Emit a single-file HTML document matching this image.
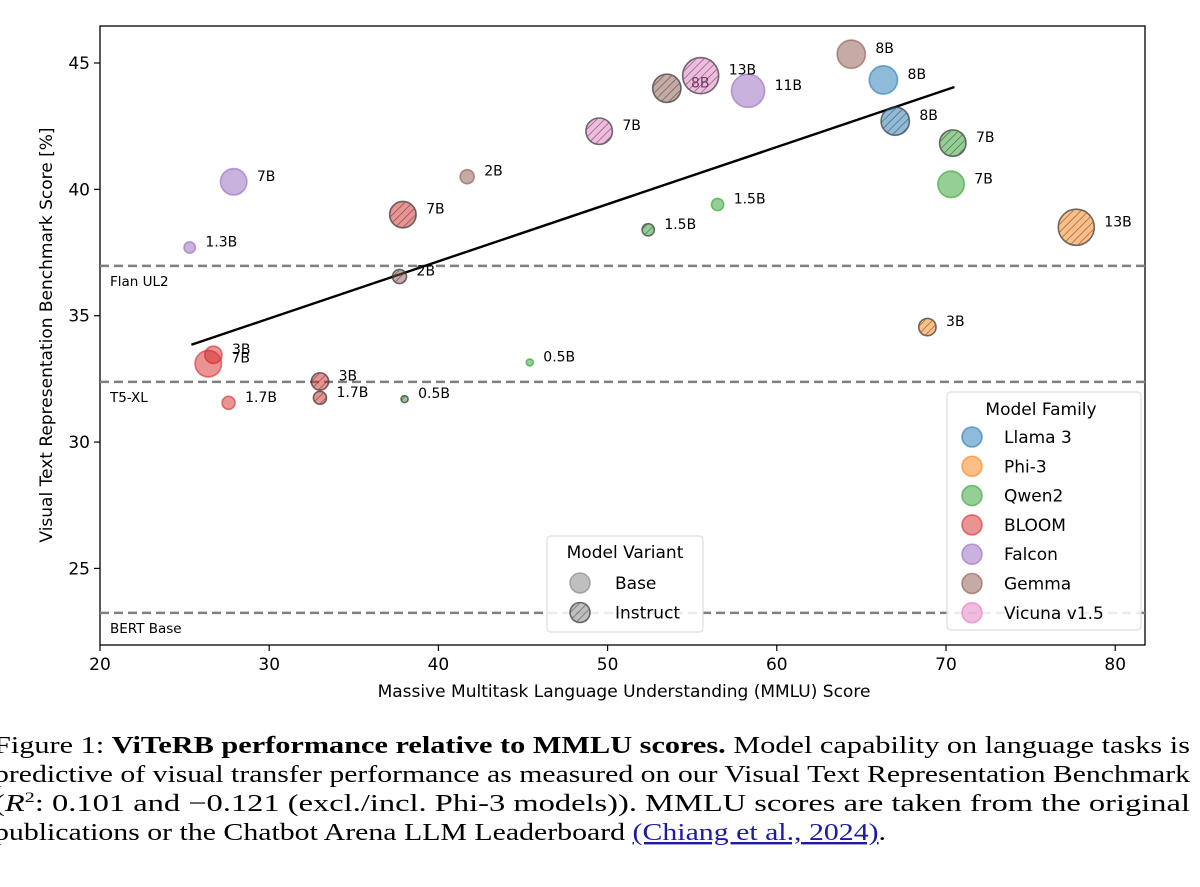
<!DOCTYPE html>
<html><head><meta charset="utf-8"><style>
body{margin:0;background:#fff;}
svg{display:block;}
.t{font-family:"DejaVu Sans","Liberation Sans",sans-serif;}
.cap{font-family:"Liberation Serif","Times New Roman",serif;font-size:24px;fill:#000;}
</style></head><body>
<svg id="chart" width="1200" height="887" viewBox="0 0 1200 887">
<defs>
<pattern id="hatch" patternUnits="userSpaceOnUse" width="5.5" height="5.5" patternTransform="rotate(45)">
<line x1="0" y1="0" x2="0" y2="5.5" stroke="#333" stroke-width="1.3" stroke-opacity="0.7"/>
</pattern>
</defs>
<rect x="100" y="26" width="1045" height="619" fill="none" stroke="#000" stroke-width="1.3"/>
<g id="axes"></g>
<g id="refs"></g>
<g id="trend"></g>
<g id="points"></g>
<g id="legends"></g>
<text x="624" y="697" text-anchor="middle" class="t" font-size="17">Massive Multitask Language Understanding (MMLU) Score</text>
<text transform="translate(52,335) rotate(-90)" text-anchor="middle" class="t" font-size="17">Visual Text Representation Benchmark Score [%]</text>
<g>
<text class="cap" x="-6" y="753" textLength="1196" lengthAdjust="spacingAndGlyphs">Figure 1: <tspan font-weight="bold">ViTeRB performance relative to MMLU scores.</tspan> Model capability on language tasks is</text>
<text class="cap" x="-6" y="782" textLength="1196" lengthAdjust="spacingAndGlyphs">predictive of visual transfer performance as measured on our Visual Text Representation Benchmark</text>
<text class="cap" x="-6" y="811" textLength="1196" lengthAdjust="spacingAndGlyphs">(<tspan font-style="italic">R</tspan><tspan dy="-9" font-size="15">2</tspan><tspan dy="9">: 0.101 and −0.121 (excl./incl.  Phi-3 models)).  MMLU scores are taken from the original</tspan></text>
<text class="cap" x="-6" y="840" textLength="892" lengthAdjust="spacingAndGlyphs">publications or the Chatbot Arena LLM Leaderboard <tspan fill="#1a1aa6" text-decoration="underline">(Chiang et al., 2024)</tspan>.</text>
</g>
</svg>
<script>
const xTicks=[20,30,40,50,60,70,80];
const yTicks=[25,30,35,40,45];
const families=["Llama 3","Phi-3","Qwen2","BLOOM","Falcon","Gemma","Vicuna v1.5"];
const famColors=["#1f77b4","#ff7f0e","#2ca02c","#d62728","#9467bd","#8c564b","#e377c2"];
const ptFamily=[0,0,1,1,2,2,2,2,2,2,3,3,3,3,3,3,4,4,4,5,5,5,5,6,6];
const ptInstruct=[0,1,1,1,0,1,0,1,0,1,0,0,0,1,1,1,0,0,0,0,0,1,1,1,1];
const ptMMLU=[66.3,67.0,77.7,68.9,70.3,70.4,56.5,52.4,45.4,38.0,26.4,26.7,27.6,33.0,33.0,37.9,27.9,25.3,58.3,64.4,41.7,53.5,37.7,55.5,49.5];
const ptScore=[44.33,42.7,38.5,34.55,40.2,41.83,39.4,38.4,33.15,31.7,33.1,33.45,31.55,32.4,31.75,39.0,40.3,37.7,43.9,45.35,40.5,44.0,36.55,44.5,42.3];
const ptSize=["8B","8B","13B","3B","7B","7B","1.5B","1.5B","0.5B","0.5B","7B","3B","1.7B","3B","1.7B","7B","7B","1.3B","11B","8B","2B","8B","2B","13B","7B"];
const refNames=["Flan UL2","T5-XL","BERT Base"];
const refValues=[36.97,32.38,23.24];
const trendX=[25.4,70.5];
const trendY=[33.85,44.05];

const NS="http://www.w3.org/2000/svg";
const X=v=>100+(v-20)*16.92;
const Y=v=>63+(45-v)*25.27;
function mk(tag,attrs,parent,text){const e=document.createElementNS(NS,tag);for(const k in attrs)e.setAttribute(k,attrs[k]);if(text!==undefined)e.textContent=text;parent.appendChild(e);return e;}
const axes=document.getElementById('axes');
xTicks.forEach(v=>{
  const l=mk('line',{x1:X(v),x2:X(v),y1:645,y2:651,stroke:'#000','stroke-width':1.2},axes);
  
  
  const t=mk('text',{x:X(v),y:670,'text-anchor':'middle',class:'t','font-size':17},axes,String(v));
  
  
});
yTicks.forEach(v=>{
  const l=mk('line',{x1:94,x2:100,y1:Y(v),y2:Y(v),stroke:'#000','stroke-width':1.2},axes);
  
  
  const t=mk('text',{x:90,y:Y(v)+6,'text-anchor':'end',class:'t','font-size':17},axes,String(v));
  
  
});
const refs=document.getElementById('refs');
refNames.forEach((n,i)=>{
  const l=mk('line',{x1:100,x2:1145,y1:Y(refValues[i]),y2:Y(refValues[i]),stroke:'#808080','stroke-width':2.5,'stroke-dasharray':'9 5'},refs);
  
  
  const t=mk('text',{x:110,y:Y(refValues[i])+20,class:'t','font-size':13.5},refs,n);
  
  
});
const tr=mk('line',{x1:X(trendX[0]),y1:Y(trendY[0]),x2:X(trendX[1]),y2:Y(trendY[1]),stroke:'#000','stroke-width':2.4},document.getElementById('trend'));


const pts=document.getElementById('points');
function rad(s){return 5*Math.sqrt(parseFloat(s));}
function drawMarker(parent,cx,cy,r,col,instr){
  const g=mk('g',{},parent);
  mk('circle',{cx,cy,r,fill:col,'fill-opacity':0.5,stroke:instr?'#333':col,'stroke-opacity':instr?0.7:0.6,'stroke-width':1.6},g);
  if(instr) mk('circle',{cx,cy,r:r-0.8,fill:'url(#hatch)'},g);
  return g;
}
ptMMLU.forEach((m,i)=>{
  const r=rad(ptSize[i]);
  const g=drawMarker(pts,X(m),Y(ptScore[i]),r,famColors[ptFamily[i]],ptInstruct[i]);
  
  
  const t=mk('text',{x:X(m)+r+10,y:Y(ptScore[i])-1,class:'t','font-size':14},pts,ptSize[i]);
  
  
});
const lg=document.getElementById('legends');
const fam=mk('g',{},lg);


mk('rect',{x:947,y:392,width:194,height:238,rx:4,fill:'#fff','fill-opacity':0.85,stroke:'#ddd','stroke-width':1.2},fam);
mk('text',{x:1041,y:415,'text-anchor':'middle',class:'t','font-size':17},fam,'Model Family');
families.forEach((f,i)=>{
  const cy=437+i*29.3;
  const m=drawMarker(fam,972,cy,10,famColors[i],0);
  
  
  const t=mk('text',{x:1004,y:cy+6,class:'t','font-size':17},fam,f);
  
  
});
const vr=mk('g',{},lg);


mk('rect',{x:547,y:536,width:156,height:96,rx:4,fill:'#fff','fill-opacity':0.85,stroke:'#ddd','stroke-width':1.2},vr);
mk('text',{x:625,y:558,'text-anchor':'middle',class:'t','font-size':17},vr,'Model Variant');
['Base','Instruct'].forEach((n,i)=>{
  const cy=583+i*29.5;
  drawMarker(vr,580,cy,10,'#808080',i);
  const t=mk('text',{x:615,y:cy+6,class:'t','font-size':17},vr,n);
  
  
});
</script>
</body></html>
